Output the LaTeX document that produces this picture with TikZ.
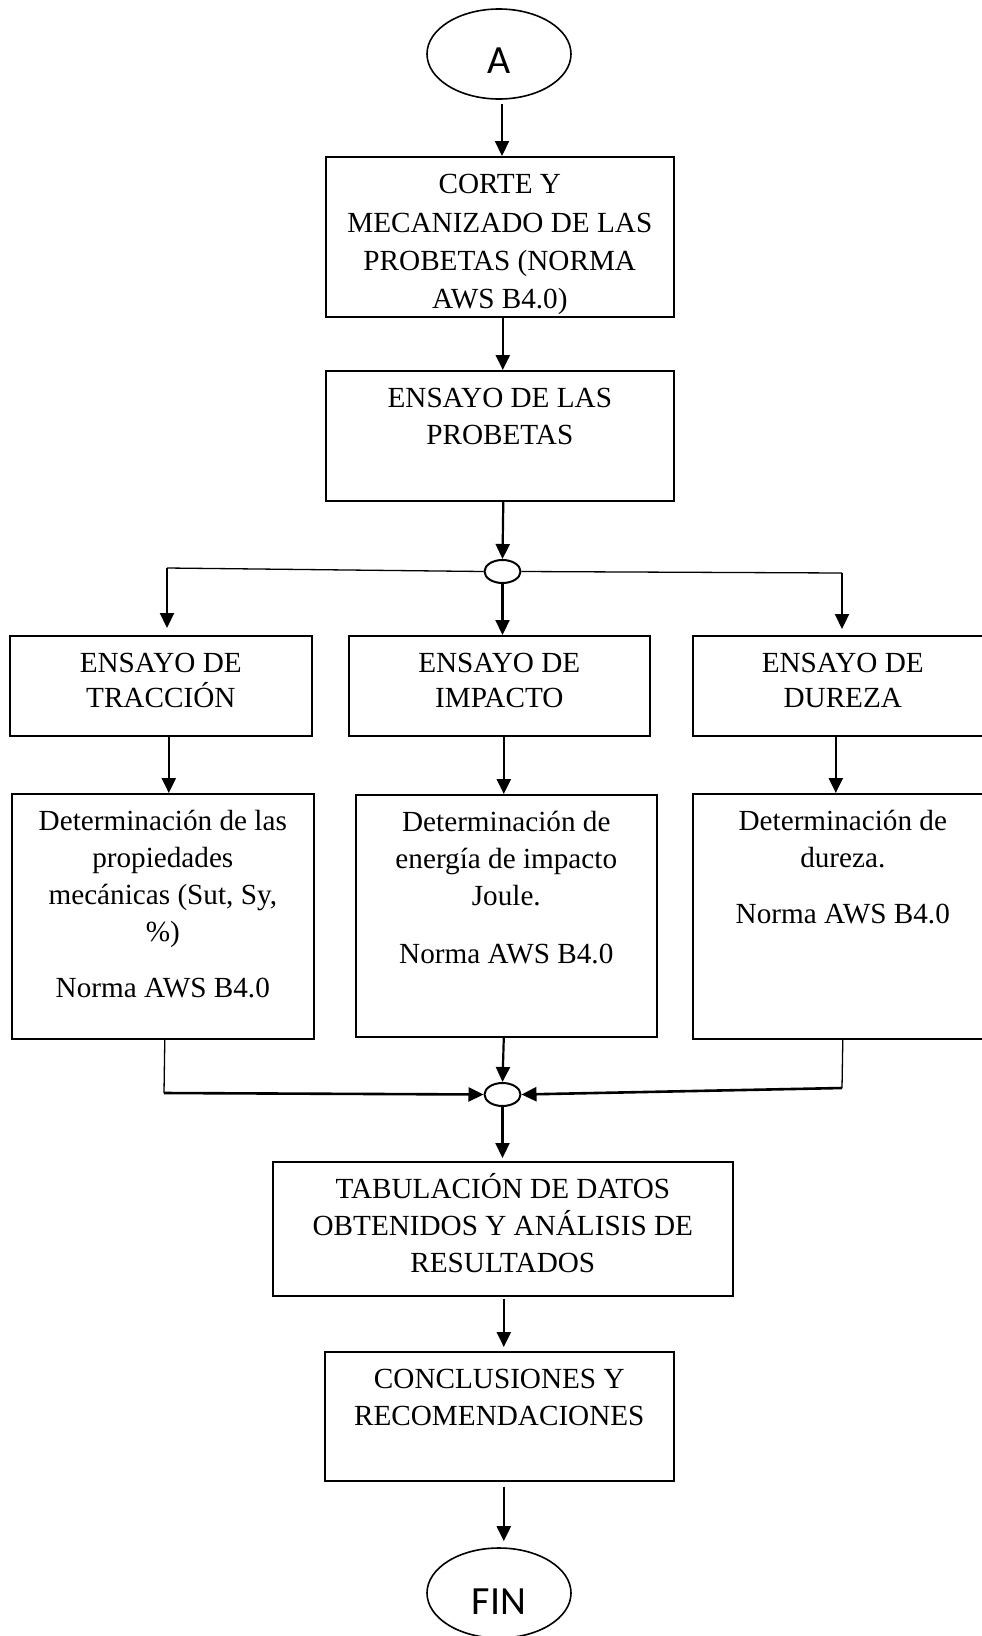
\documentclass[tikz,border=0pt]{standalone}
\usepackage{fontspec}
\setmainfont{Liberation Serif}
\newfontfamily\calib{Carlito}
\usetikzlibrary{arrows.meta,shapes.geometric}
\newcommand\bxtxt[4]{\begin{minipage}[t][#2pt][t]{#1pt}\centering\fontsize{29.2}{#3}\selectfont\rule{0pt}{37pt}#4\end{minipage}}
\begin{document}
\begin{tikzpicture}[x=1pt,y=-1pt,
  box/.style={draw,line width=1.6pt,inner sep=0pt,anchor=north west},
  arr/.style={line width=2.2pt,-{Triangle[length=15pt,width=14pt]}},
  thinln/.style={line width=1.3pt},
  thickln/.style={line width=2.6pt,-{Triangle[length=15pt,width=14pt]}},
  term/.style={ellipse,draw,line width=1.6pt,inner sep=0pt,minimum width=144pt,minimum height=90pt},
  junc/.style={ellipse,draw,line width=2pt,inner sep=0pt,minimum width=36pt,minimum height=23pt}]
\useasboundingbox (0,0) rectangle (982,1636);

% terminals
\node[term,text height=38pt,text depth=0pt] (A) at (499,54) {\calib\fontsize{40}{40}\selectfont A};
\node[term,text height=43pt,text depth=0pt] (F) at (499,1593) {\calib\fontsize{40}{40}\selectfont FIN};

% main boxes
\node[box] (b1) at (325,156) {\bxtxt{348}{160}{38.3}{CORTE Y\\MECANIZADO DE LAS\\PROBETAS (NORMA\\AWS B4.0)}};
\node[box] (b2) at (325,370) {\bxtxt{348}{130}{37}{ENSAYO DE LAS\\PROBETAS}};

\node[box] (r1) at (9,635) {\bxtxt{302}{100}{35}{ENSAYO DE\\TRACCIÓN}};
\node[box] (r2) at (348,635) {\bxtxt{301}{100}{35}{ENSAYO DE\\IMPACTO}};
\node[box] (r3) at (692,635) {\bxtxt{300}{100}{35}{ENSAYO DE\\DUREZA}};

\node[box] (d1) at (11,793) {\bxtxt{302}{245}{37}{Determinación de las\\propiedades\\mecánicas (Sut, Sy,\\\%)\\[19pt]Norma AWS B4.0}};
\node[box] (d2) at (355,794) {\bxtxt{301}{242}{37}{Determinación de\\energía de impacto\\Joule.\\[21pt]Norma AWS B4.0}};
\node[box] (d3) at (692,793) {\bxtxt{300}{245}{37}{Determinación de\\dureza.\\[19pt]Norma AWS B4.0}};

\node[box] (tab) at (272,1161) {\bxtxt{460}{134}{36.7}{TABULACIÓN DE DATOS\\OBTENIDOS Y ANÁLISIS DE\\RESULTADOS}};
\node[box] (con) at (324,1351) {\bxtxt{349}{129}{37}{CONCLUSIONES Y\\RECOMENDACIONES}};

% junctions
\node[junc] (c1) at (502.5,571.5) {};
\node[junc] (c2) at (502.5,1094.5) {};

% corner points
\coordinate (jl) at (167,568);
\coordinate (jr) at (842,573);
\coordinate (kl) at (164,1093);
\coordinate (kr) at (842,1088);

% connectors
\draw[arr] ([xshift=3pt,yshift=-4pt]A.south) -- ([xshift=3pt]A.south |- b1.north);
\draw[arr] ([xshift=3pt]b1.south) -- ([xshift=3pt]b1.south |- b2.north);
\draw[arr] ([xshift=3.5pt]b2.south) -- (c1.north);

\draw[thinln] (c1.west) -- (jl);
\draw[thinln] (c1.east) -- (jr);
\draw[arr] (jl) -- ([yshift=7pt]jl |- r1.north);
\draw[arr] (c1.south) -- (c1.south |- r2.north);
\draw[arr] (jr) -- ([yshift=6pt]jr |- r3.north);

\draw[arr] ([xshift=8pt]r1.south) -- ([xshift=8pt]r1.south |- d1.north);
\draw[arr] ([xshift=4.5pt]r2.south) -- ([xshift=4.5pt]r2.south |- d2.north);
\draw[arr] ([xshift=-7pt]r3.south) -- ([xshift=-7pt]r3.south |- d3.north);

\draw[thinln] ([xshift=2pt]d1.south) -- (kl);
\draw[thickln] (kl) -- (c2.west);
\draw[arr] ([xshift=-2.5pt]d2.south) -- (c2.north);
\draw[thinln] (d3.south) -- (kr);
\draw[thickln] (kr) -- (c2.east);

\draw[arr] (c2.south) -- ([yshift=3pt]c2.south |- tab.north);
\draw[arr] ([xshift=1pt,yshift=-2pt]tab.south) -- ([xshift=1pt,yshift=4pt]tab.south |- con.north);
\draw[arr] ([xshift=4.5pt,yshift=-5pt]con.south) -- ([xshift=4.5pt,yshift=6pt]con.south |- F.north);
\end{tikzpicture}
\end{document}
